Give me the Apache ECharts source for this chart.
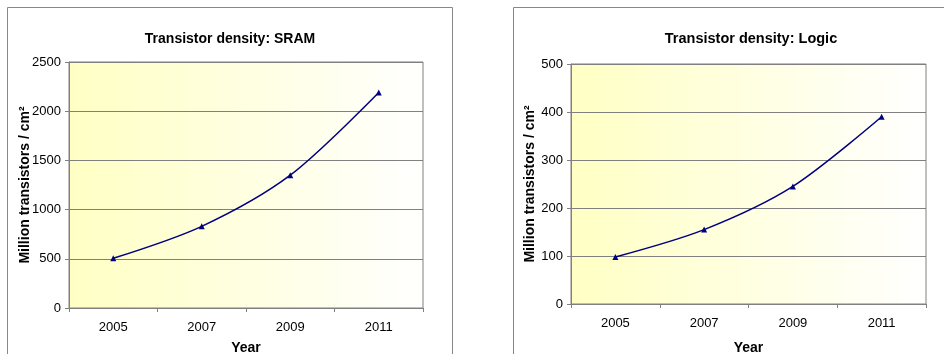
<!DOCTYPE html>
<html>
<head>
<meta charset="utf-8">
<script src="https://cdn.jsdelivr.net/npm/echarts@6/dist/echarts.min.js"></script>
<style>
html, body { margin: 0; padding: 0; background: #fff; }
#chart-box { width: 944px; height: 354px; }
</style>
</head>
<body>
<div id="chart-box"></div>
<script>
// data
var years = ['2005', '2007', '2009', '2011'];
var sramDensity = [505, 830, 1350, 2190];
var logicDensity = [98, 155, 245, 390];
var sramTicks = { min: 0, max: 2500, interval: 500 };
var logicTicks = { min: 0, max: 500, interval: 100 };

var font = '"Liberation Sans", Arial, sans-serif';
var lineColor = '#000080';
var gridColor = '#808080';

function plotFill() {
    return new echarts.graphic.LinearGradient(0, 0, 1, 0, [
        { offset: 0, color: '#ffffc4' },
        { offset: 1, color: '#ffffff' }
    ]);
}

function xAxisFor(idx, gap, margin) {
    return {
        type: 'category',
        gridIndex: idx,
        data: years,
        boundaryGap: true,
        name: 'Year',
        nameLocation: 'middle',
        nameGap: gap,
        nameMoveOverlap: false,
        nameTextStyle: { color: '#000', fontFamily: font, fontSize: 14, fontWeight: 'bold' },
        axisLine: { lineStyle: { color: gridColor } },
        axisTick: { show: true, length: 4, lineStyle: { color: gridColor } },
        axisLabel: { color: '#000', fontFamily: font, fontSize: 13, margin: margin },
        splitLine: { show: false }
    };
}

function yAxisFor(idx, ticks, gap) {
    return {
        type: 'value',
        gridIndex: idx,
        min: ticks.min,
        max: ticks.max,
        interval: ticks.interval,
        name: 'Million transistors / cm²',
        nameLocation: 'middle',
        nameGap: gap,
        nameMoveOverlap: false,
        nameTextStyle: { color: '#000', fontFamily: font, fontSize: 14, fontWeight: 'bold' },
        axisLine: { show: true, lineStyle: { color: gridColor } },
        axisTick: { show: true, length: 4, lineStyle: { color: gridColor } },
        axisLabel: {
            color: '#000', fontFamily: font, fontSize: 13, margin: 8,
            formatter: function (v) { return String(v); }
        },
        splitLine: { show: true, lineStyle: { color: gridColor, width: 1 } }
    };
}

function seriesFor(idx, values) {
    return {
        type: 'line',
        xAxisIndex: idx,
        yAxisIndex: idx,
        data: values,
        smooth: 0.3,
        symbol: 'triangle',
        symbolSize: 6,
        showSymbol: true,
        itemStyle: { color: lineColor },
        lineStyle: { color: lineColor, width: 1.5 }
    };
}

var option = {
    animation: false,
    backgroundColor: '#fff',
    graphic: [
        { type: 'rect', shape: { x: 7.5, y: 7.5, width: 445, height: 360 },
          style: { fill: 'none', stroke: '#888', lineWidth: 1 } },
        { type: 'rect', shape: { x: 513.5, y: 7.5, width: 450, height: 360 },
          style: { fill: 'none', stroke: '#888', lineWidth: 1 } }
    ],
    title: [
        { text: 'Transistor density: SRAM', left: 225, top: 27, textAlign: 'center',
          textStyle: { color: '#000', fontFamily: font, fontSize: 14, fontWeight: 'bold' } },
        { text: 'Transistor density: Logic', left: 746, top: 26, textAlign: 'center',
          textStyle: { color: '#000', fontFamily: font, fontSize: 14.5, fontWeight: 'bold' } }
    ],
    grid: [
        { left: 69, top: 62, width: 354, height: 246, show: true, containLabel: false,
          outerBoundsMode: 'none',
          backgroundColor: plotFill(), borderColor: gridColor, borderWidth: 1 },
        { left: 571, top: 64, width: 355, height: 240, show: true, containLabel: false,
          outerBoundsMode: 'none',
          backgroundColor: plotFill(), borderColor: gridColor, borderWidth: 1 }
    ],
    xAxis: [xAxisFor(0, 33, 13), xAxisFor(1, 37, 13)],
    yAxis: [yAxisFor(0, sramTicks, 37), yAxisFor(1, logicTicks, 34)],
    series: [seriesFor(0, sramDensity), seriesFor(1, logicDensity)]
};

var myChart = echarts.init(document.getElementById('chart-box'));
myChart.setOption(option);
</script>
</body>
</html>
